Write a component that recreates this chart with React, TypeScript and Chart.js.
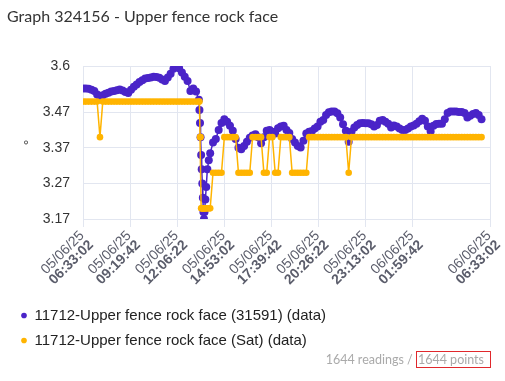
import React, { useEffect, useRef } from "react";
import { Chart, registerables } from "chart.js";

Chart.register(...registerables);

const chartTitle = "Graph 324156 - Upper fence rock face";
const seriesNames = [
  "11712-Upper fence rock face (31591) (data)",
  "11712-Upper fence rock face (Sat) (data)",
];
const seriesColors = ["#4a24c8", "#ffb400"];
const yAxisTitle = "°";
const footerReadings = "1644 readings / ";
const footerPoints = "1644 points";

const yTicks = [3.17, 3.27, 3.37, 3.47, 3.6];
const yMin = 3.17;
const yMax = 3.6;

// x ticks: seconds after 05/06/25 06:33:02
const xTickSeconds = [0, 10000, 20000, 30000, 40000, 50000, 60000, 70000, 80000, 86400];
const xTickDates = ["05/06/25", "05/06/25", "05/06/25", "05/06/25", "05/06/25", "05/06/25", "05/06/25", "06/06/25", "06/06/25", "06/06/25"];
const xTickTimes = ["06:33:02", "09:19:42", "12:06:22", "14:53:02", "17:39:42", "20:26:22", "23:13:02", "01:59:42", "04:46:22", "06:33:02"];
const xTickShown = [true, true, true, true, true, true, true, true, false, true];

// reading times, minutes after 05/06/25 06:33:02
const readingMinutes = [
  0, 10, 20, 30, 40, 50, 60, 70, 80, 90,
  100, 110, 120, 130, 140, 150, 160, 170, 180, 190,
  200, 210, 220, 230, 240, 250, 260, 270, 280, 290,
  300, 310, 320, 330, 340, 350, 360, 370, 380, 390,
  400, 410,
  412, 414, 416, 418, 420, 422, 424, 426, 428, 430, 433, 436, 440, 445, 450,
  460, 470, 480, 490, 500, 510, 520, 530, 540, 550,
  560, 570, 580, 590, 600, 610, 620, 630, 640, 650,
  660, 670, 680, 690, 700, 710, 720, 730, 740, 750,
  760, 770, 780, 790, 800, 810, 820, 830, 840, 850,
  860, 870, 880, 890, 900, 910, 920, 930, 940, 950,
  960, 970, 980, 990, 1000, 1010, 1020, 1030, 1040, 1050,
  1060, 1070, 1080, 1090, 1100, 1110, 1120, 1130, 1140, 1150,
  1160, 1170, 1180, 1190, 1200, 1210, 1220, 1230, 1240, 1250,
  1260, 1270, 1280, 1290, 1300, 1310, 1320, 1330, 1340, 1350,
  1360, 1370, 1380, 1390, 1400, 1410,
];

const valuesGauge = [
  3.537, 3.537, 3.536, 3.533, 3.53, 3.52, 3.514, 3.518, 3.522, 3.525,
  3.528, 3.53, 3.532, 3.534, 3.531, 3.527, 3.524, 3.533, 3.542, 3.548,
  3.555, 3.56, 3.565, 3.566, 3.568, 3.57, 3.569, 3.567, 3.562, 3.558,
  3.568, 3.578, 3.592, 3.601, 3.594, 3.582, 3.57, 3.558, 3.53, 3.537,
  3.528, 3.505,
  3.476, 3.44, 3.4, 3.35, 3.31, 3.27, 3.23, 3.19, 3.17, 3.19, 3.225, 3.26, 3.31, 3.335, 3.355,
  3.385, 3.395, 3.42, 3.44, 3.45, 3.443, 3.432, 3.418, 3.395, 3.37,
  3.366, 3.375, 3.387, 3.398, 3.405, 3.408, 3.4, 3.383, 3.4, 3.418,
  3.42, 3.415, 3.41, 3.425, 3.43, 3.432, 3.42, 3.412, 3.395, 3.385,
  3.375, 3.371, 3.39, 3.41, 3.415, 3.417, 3.424, 3.43, 3.443, 3.448,
  3.462, 3.47, 3.472, 3.472, 3.467, 3.455, 3.436, 3.418, 3.387, 3.415,
  3.427, 3.434, 3.439, 3.44, 3.439, 3.439, 3.436, 3.43, 3.434, 3.446,
  3.448, 3.443, 3.438, 3.427, 3.433, 3.43, 3.424, 3.42, 3.42, 3.424,
  3.43, 3.433, 3.438, 3.445, 3.452, 3.446, 3.43, 3.416, 3.432, 3.437,
  3.438, 3.438, 3.45, 3.468, 3.472, 3.472, 3.472, 3.471, 3.471, 3.468,
  3.455, 3.46, 3.465, 3.468, 3.462, 3.45,
];

const valuesSat = [
  3.5, 3.5, 3.5, 3.5, 3.5, 3.5, 3.4, 3.5, 3.5, 3.5,
  3.5, 3.5, 3.5, 3.5, 3.5, 3.5, 3.5, 3.5, 3.5, 3.5,
  3.5, 3.5, 3.5, 3.5, 3.5, 3.5, 3.5, 3.5, 3.5, 3.5,
  3.5, 3.5, 3.5, 3.5, 3.5, 3.5, 3.5, 3.5, 3.5, 3.5,
  3.5, 3.5,
  3.5, 3.4, 3.4, 3.2, 3.2, 3.2, 3.2, 3.2, 3.2, 3.2, 3.2, 3.2, 3.2, 3.2, 3.2,
  3.3, 3.3, 3.3, 3.3, 3.4, 3.4, 3.4, 3.4, 3.4, 3.3,
  3.3, 3.3, 3.3, 3.3, 3.4, 3.4, 3.4, 3.4, 3.3, 3.3,
  3.4, 3.4, 3.3, 3.3, 3.4, 3.4, 3.4, 3.4, 3.3, 3.3,
  3.3, 3.3, 3.3, 3.3, 3.4, 3.4, 3.4, 3.4, 3.4, 3.4,
  3.4, 3.4, 3.4, 3.4, 3.4, 3.4, 3.4, 3.4, 3.3, 3.4,
  3.4, 3.4, 3.4, 3.4, 3.4, 3.4, 3.4, 3.4, 3.4, 3.4,
  3.4, 3.4, 3.4, 3.4, 3.4, 3.4, 3.4, 3.4, 3.4, 3.4,
  3.4, 3.4, 3.4, 3.4, 3.4, 3.4, 3.4, 3.4, 3.4, 3.4,
  3.4, 3.4, 3.4, 3.4, 3.4, 3.4, 3.4, 3.4, 3.4, 3.4,
  3.4, 3.4, 3.4, 3.4, 3.4, 3.4,
];

const TICK_FONT = '"Liberation Sans", Arial, sans-serif';
const GRID = "#e2e6f0";

const xLabelPlugin = {
  id: "xTwoLineLabels",
  afterDraw(chart: any) {
    const scale = chart.scales.x;
    const ctx = chart.ctx;
    const rot = (45 * Math.PI) / 180;
    const lh = 13;
    ctx.save();
    scale.ticks.forEach((t: any, i: number) => {
      if (!xTickShown[i]) return;
      const px = scale.getPixelForValue(t.value);
      ctx.save();
      ctx.translate(px - 1, scale.top + 14.5);
      ctx.rotate(-rot);
      ctx.textAlign = "right";
      ctx.textBaseline = "middle";
      ctx.fillStyle = "#5b5d6b";
      ctx.font = `14px ${TICK_FONT}`;
      ctx.fillText(xTickDates[i], 0, 0);
      ctx.font = `bold 14px ${TICK_FONT}`;
      ctx.fillText(xTickTimes[i], 0, lh);
      ctx.restore();
    });
    ctx.restore();
  },
};

export default function App() {
  const canvasRef = useRef<HTMLCanvasElement | null>(null);

  useEffect(() => {
    if (!canvasRef.current) return;
    const chart = new Chart(canvasRef.current, {
      type: "line",
      data: {
        datasets: [
          {
            label: seriesNames[0],
            data: readingMinutes.map((m, i) => ({ x: m, y: valuesGauge[i] })),
            borderColor: seriesColors[0],
            backgroundColor: seriesColors[0],
            pointBackgroundColor: seriesColors[0],
            pointBorderColor: seriesColors[0],
            pointRadius: 4,
            pointBorderWidth: 0,
            borderWidth: 1.5,
            tension: 0,
            order: 1,
          },
          {
            label: seriesNames[1],
            data: readingMinutes.map((m, i) => ({ x: m, y: valuesSat[i] })),
            borderColor: seriesColors[1],
            backgroundColor: seriesColors[1],
            pointBackgroundColor: seriesColors[1],
            pointBorderColor: seriesColors[1],
            pointRadius: 3.3,
            pointBorderWidth: 0,
            borderWidth: 1.5,
            tension: 0,
            order: 0,
          },
        ],
      },
      options: {
        responsive: false,
        animation: false,
        devicePixelRatio: 1,
        layout: { padding: { top: 66, left: 11, right: 15, bottom: 23 } },
        plugins: {
          legend: {
            position: "bottom",
            align: "start",
            labels: {
              usePointStyle: true,
              pointStyle: "circle",
              boxWidth: 6,
              boxHeight: 4,
              padding: 10,
              color: "#222",
              font: { size: 15, family: TICK_FONT },
              sort: (a: any, b: any) => a.datasetIndex - b.datasetIndex,
            },
          },
          tooltip: { enabled: false },
          title: { display: false },
        },
        scales: {
          x: {
            type: "linear",
            min: 0,
            max: 1440,
            afterBuildTicks: (s: any) => {
              s.ticks = xTickSeconds.map((v) => ({ value: v / 60 }));
            },
            afterFit: (s: any) => {
              s.paddingLeft = 0;
              s.paddingRight = 0;
              s.height = 79;
            },
            ticks: {
              autoSkip: false,
              minRotation: 45,
              maxRotation: 45,
              color: "rgba(0,0,0,0)",
              font: { size: 13, family: TICK_FONT, lineHeight: 1.1 },
              callback: (_v: any, i: number) => [xTickDates[i], xTickTimes[i]],
            },
            grid: { color: GRID, tickLength: 8, lineWidth: (c: any) => (xTickShown[c.index] ? 1 : 0) },
            border: { color: GRID },
          },
          y: {
            min: yMin,
            max: yMax,
            afterBuildTicks: (s: any) => {
              s.ticks = yTicks.map((v) => ({ value: v }));
            },
            afterFit: (s: any) => {
              s.width = 72;
            },
            ticks: {
              color: "#333",
              padding: 13,
              font: { size: 14, family: TICK_FONT },
              callback: (v: any) => String(v),
            },
            title: {
              display: true,
              text: yAxisTitle,
              color: "#333",
              font: { size: 14, family: TICK_FONT },
              padding: { top: 11, bottom: 4 },
            },
            grid: { color: GRID, drawTicks: false },
            border: { color: GRID },
          },
        },
      },
      plugins: [xLabelPlugin],
    } as any);
    return () => chart.destroy();
  }, []);

  return (
    <div
      style={{
        position: "fixed",
        left: 0,
        top: 0,
        width: 505,
        height: 381,
        background: "#fff",
        overflow: "hidden",
      }}
    >
      <canvas ref={canvasRef} width={505} height={381} style={{ position: "absolute", left: 0, top: 0 }} />
      <div
        style={{
          position: "absolute",
          left: 7,
          top: 6,
          fontFamily: "Lato, sans-serif",
          fontSize: 16,
          color: "#333",
          whiteSpace: "nowrap",
        }}
      >
        {chartTitle}
      </div>
      <div
        style={{
          position: "absolute",
          right: 14,
          top: 353,
          fontFamily: "Lato, sans-serif",
          fontSize: 12.5,
          lineHeight: "13px",
          color: "#aaa",
          whiteSpace: "nowrap",
        }}
      >
        {footerReadings}
        <span style={{ border: "1px solid #e0282c", padding: "0 6px 0 1px" }}>{footerPoints}</span>
      </div>
    </div>
  );
}
